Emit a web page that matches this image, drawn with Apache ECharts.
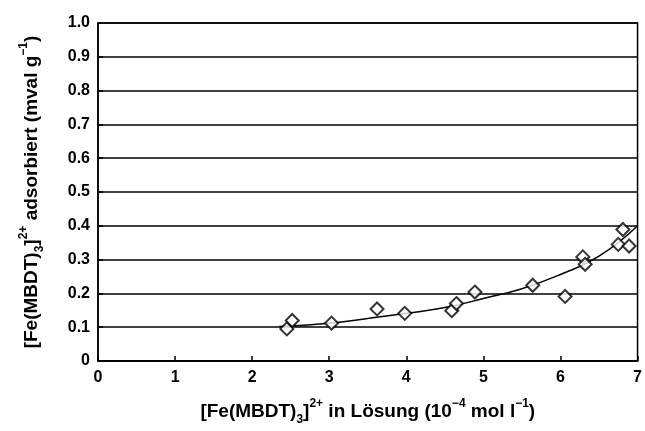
<!DOCTYPE html>
<html>
<head>
<meta charset="utf-8">
<script src="https://cdn.jsdelivr.net/npm/echarts@6/dist/echarts.min.js"></script>
<style>
  html, body { margin: 0; padding: 0; background: #fff; }
  #chart { width: 645px; height: 431px; }
</style>
</head>
<body>
<div id="chart"></div>
<script>
// measured points
const pointX = [2.45, 2.52, 3.03, 3.62, 3.98, 4.59, 4.65, 4.89, 5.64, 6.06, 6.29, 6.32, 6.75, 6.81, 6.89];
const pointY = [0.095, 0.12, 0.112, 0.154, 0.141, 0.149, 0.17, 0.204, 0.224, 0.191, 0.308, 0.286, 0.345, 0.389, 0.34];

// fitted curve
const curveX = [2.35, 3, 3.5, 4, 4.5, 5, 5.5, 6, 6.5, 7];
const curveY = [0.102, 0.112, 0.126, 0.141, 0.158, 0.185, 0.214, 0.256, 0.31, 0.40];

const font = '"Liberation Sans", Arial, sans-serif';

const richText = {
  a: { fontSize: 19, fontWeight: 'bold', fontFamily: font, color: '#000', lineHeight: 28 },
  sup: { fontSize: 12, fontWeight: 'bold', fontFamily: font, color: '#000', lineHeight: 15, verticalAlign: 'top' },
  sub: { fontSize: 12, fontWeight: 'bold', fontFamily: font, color: '#000', lineHeight: 12, verticalAlign: 'bottom' }
};

var myChart = echarts.init(document.getElementById('chart'));
myChart.setOption({
  animation: false,
  grid: {
    left: 98, right: 5, top: 23, bottom: 67,
    show: true, borderColor: '#000', borderWidth: 1.5
  },
  xAxis: {
    type: 'value',
    min: 0, max: 7, interval: 1,
    name: '{a|[Fe(MBDT)}{sub|3}{a|]}{sup|2+}{a| in Lösung (10}{sup|−4}{a| mol l}{sup|−1}{a|)}',
    nameLocation: 'middle',
    nameGap: 37,
    nameTextStyle: { rich: richText },
    axisLine: { lineStyle: { color: '#000', width: 1.5 } },
    axisTick: { inside: true, length: 5, lineStyle: { color: '#000', width: 1.5 } },
    axisLabel: { color: '#000', fontSize: 16, fontWeight: 'bold', fontFamily: font, margin: 9 },
    splitLine: { show: false }
  },
  yAxis: {
    type: 'value',
    min: 0, max: 1, interval: 0.1,
    name: '{a|[Fe(MBDT)}{sub|3}{a|]}{sup|2+}{a| adsorbiert (mval g}{sup|−1}{a|)}',
    nameLocation: 'middle',
    nameGap: 52,
    nameTextStyle: { rich: richText },
    axisLine: { lineStyle: { color: '#000', width: 1.5 } },
    axisTick: { inside: true, length: 5, lineStyle: { color: '#000', width: 1.5 } },
    axisLabel: {
      color: '#000', fontSize: 16, fontWeight: 'bold', fontFamily: font, margin: 8,
      formatter: function (v) { return v === 0 ? '0' : v.toFixed(1); }
    },
    splitLine: { show: true, lineStyle: { color: '#000', width: 1.5 } }
  },
  series: [
    {
      type: 'line',
      data: curveX.map((x, i) => [x, curveY[i]]),
      smooth: true,
      showSymbol: false,
      lineStyle: { color: '#000', width: 1.5 },
      z: 2
    },
    {
      type: 'scatter',
      data: pointX.map((x, i) => [x, pointY[i]]),
      symbol: 'diamond',
      symbolSize: 13,
      itemStyle: { color: '#fff', borderColor: '#000', borderWidth: 2 },
      z: 3
    }
  ]
});
</script>
</body>
</html>
